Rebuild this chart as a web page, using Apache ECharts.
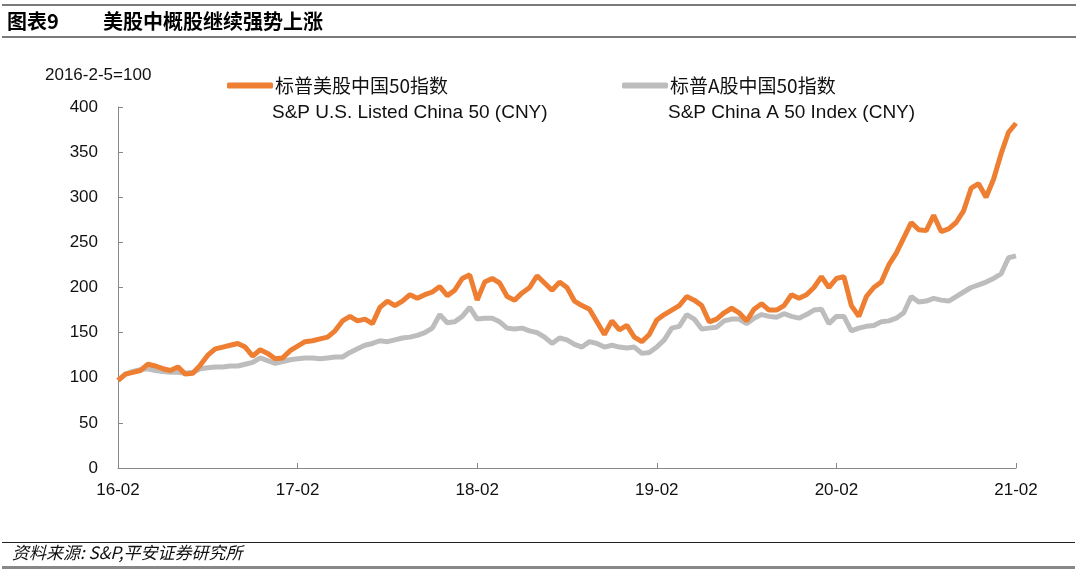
<!DOCTYPE html>
<html>
<head>
<meta charset="utf-8">
<script src="https://cdn.jsdelivr.net/npm/echarts@6/dist/echarts.min.js"></script>
<style>html,body{margin:0;padding:0;background:#fff;}#c{width:1080px;height:569px;}</style>
</head>
<body>
<div id="c"></div>
<script>
// semi-monthly observations from 2016-02 to 2021-02
var dates = [];
for (var i = 0; i <= 120; i++) {
  var m = 1 + Math.floor(i / 2);
  var y = 2016 + Math.floor(m / 12);
  var mm = (m % 12) + 1;
  dates.push(y + '-' + (mm < 10 ? '0' : '') + mm + '-' + (i % 2 === 0 ? '05' : '20'));
}
var tickLabels = ['16-02', '17-02', '18-02', '19-02', '20-02', '21-02'];
var usChina50 = [97,104,106,108,115,113,110,108,112,104,105,114,125,132,134,136,138,134,124,131,127,121,122,130,
  135,140,141,143,145,152,163,168,163,165,160,178,185,180,185,192,188,192,195,201,191,197,210,214,
  186,206,210,205,190,186,194,200,213,205,197,206,200,185,180,176,162,148,163,153,158,145,140,148,
  164,170,175,180,190,186,180,162,165,172,177,172,163,176,182,175,175,180,192,188,192,200,212,200,
  210,212,180,168,190,200,206,225,238,255,272,264,263,280,262,265,272,285,310,315,300,320,348,372,382];
var chinaA50 = [97,104,107,109,110,108,107,106,106,105,106,110,111,112,112,113,113,115,117,122,119,116,118,120,
  121,122,122,121,122,123,123,128,132,136,138,141,140,142,144,145,147,150,155,170,161,162,168,178,
  165,166,166,162,155,154,155,152,150,145,138,144,142,137,134,140,138,134,136,134,133,134,127,128,
  134,142,155,157,170,165,154,155,156,163,165,165,160,166,170,168,167,171,168,166,170,175,176,160,
  168,168,152,155,157,158,162,163,166,172,190,184,185,188,186,185,190,195,200,203,206,210,215,233,235];
var seriesNames = ['标普美股中国50指数', '标普A股中国50指数'];
var seriesEn = ['S&P U.S. Listed China 50 (CNY)', 'S&P China A 50 Index (CNY)'];

var FONT = '"Liberation Sans", Arial, "Noto Sans CJK SC", sans-serif';
var CJK = '"Noto Sans CJK SC", "Liberation Sans", sans-serif';
var chart = echarts.init(document.getElementById('c'));
function isYearTick(idx) { return idx % 24 === 0; }
chart.setOption({
  animation: false,
  backgroundColor: '#fff',
  textStyle: { fontFamily: FONT },
  grid: { left: 118, right: 64, top: 107, bottom: 101, containLabel: false },
  legend: [
    { data: [seriesNames[0]], left: 222, top: 71, icon: 'roundRect', itemWidth: 46, itemHeight: 6, itemGap: 0,
      textStyle: { fontSize: 19, color: '#111', fontFamily: CJK, padding: [2, 0, 0, -3] } },
    { data: [seriesNames[1]], left: 617, top: 71, icon: 'roundRect', itemWidth: 46, itemHeight: 6, itemGap: 0,
      textStyle: { fontSize: 19, color: '#111', fontFamily: CJK, padding: [2, 0, 0, -3] } }
  ],
  graphic: [
    { type: 'rect', left: 2, top: 4, shape: { width: 1074, height: 2 }, style: { fill: '#7a7a7a' } },
    { type: 'rect', left: 2, top: 36, shape: { width: 1074, height: 2 }, style: { fill: '#7a7a7a' } },
    { type: 'text', left: 7, top: 11, style: { text: '图表9', font: 'bold 20px ' + CJK, fill: '#000' } },
    { type: 'text', left: 103, top: 11, style: { text: '美股中概股继续强势上涨', font: 'bold 20px ' + CJK, fill: '#000' } },
    { type: 'text', left: 272, top: 103, style: { text: seriesEn[0], font: '19px ' + FONT, fill: '#111' } },
    { type: 'text', left: 668, top: 103, style: { text: seriesEn[1], font: '19px ' + FONT, fill: '#111' } },
    { type: 'text', left: 45, top: 67, style: { text: '2016-2-5=100', font: '17px ' + FONT, fill: '#111' } },
    { type: 'rect', left: 2, top: 542, shape: { width: 1073, height: 1 }, style: { fill: '#222' } },
    { type: 'text', left: 12, top: 544, style: { text: '资料来源: S&P,平安证券研究所', font: 'italic 17px ' + CJK, fill: '#111' } },
    { type: 'rect', left: 2, top: 566, shape: { width: 1073, height: 3 }, style: { fill: '#888' } }
  ],
  xAxis: {
    type: 'category', data: dates, boundaryGap: false,
    axisLine: { lineStyle: { color: '#888', width: 1 } },
    axisTick: { inside: true, length: 5, interval: function (i) { return isYearTick(i); }, lineStyle: { color: '#888' } },
    axisLabel: { interval: function (i) { return isYearTick(i); }, margin: 14, fontSize: 17, color: '#111',
      formatter: function (v, i) { return tickLabels[i / 24]; } },
    splitLine: { show: false }
  },
  yAxis: {
    type: 'value', min: 0, max: 400, interval: 50,
    axisLine: { show: true, lineStyle: { color: '#888', width: 1 } },
    axisTick: { show: true, inside: true, length: 5, lineStyle: { color: '#888' } },
    axisLabel: { fontSize: 17, color: '#111', margin: 20 },
    splitLine: { show: false }
  },
  series: [
    { name: seriesNames[0], type: 'line', data: usChina50, showSymbol: false, symbol: 'none',
      lineStyle: { color: '#EE7F32', width: 5 }, itemStyle: { color: '#EE7F32' }, z: 3 },
    { name: seriesNames[1], type: 'line', data: chinaA50, showSymbol: false, symbol: 'none',
      lineStyle: { color: '#BDBDBD', width: 5 }, itemStyle: { color: '#BDBDBD' }, z: 2 }
  ]
});
</script>
</body>
</html>
